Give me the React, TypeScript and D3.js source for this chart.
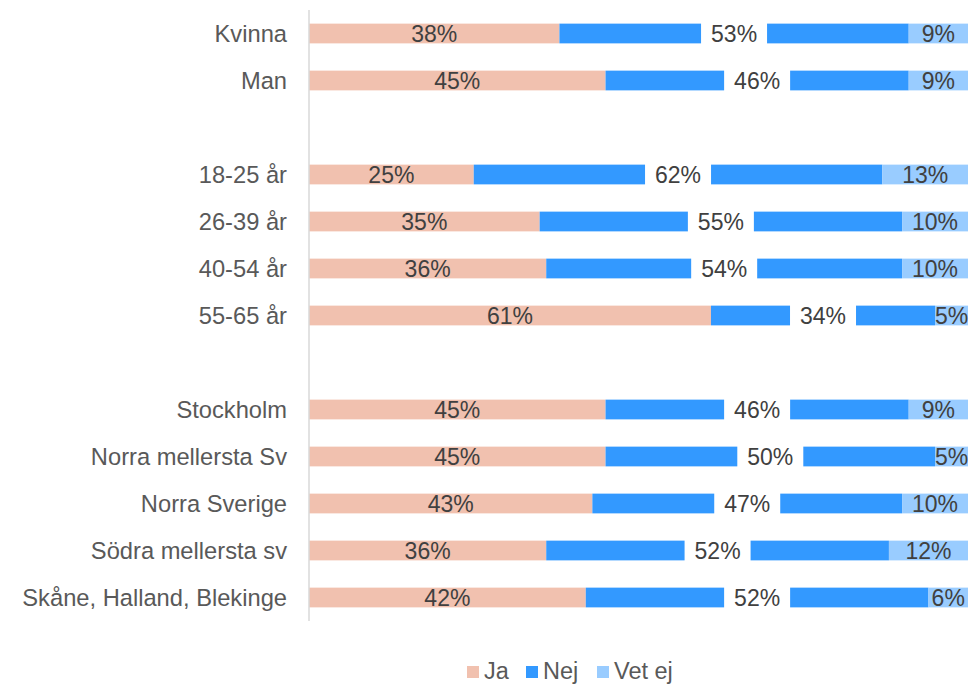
import React, { useEffect, useRef } from 'react'
import * as d3 from 'd3'

// groups of rows, blank spacer rows between groups
const GENDER = ['Kvinna', 'Man']
const AGE = ['18-25 år', '26-39 år', '40-54 år', '55-65 år']
const REGION = ['Stockholm', 'Norra mellersta Sv', 'Norra Sverige', 'Södra mellersta sv', 'Skåne, Halland, Blekinge']

const SERIES = ['Ja', 'Nej', 'Vet ej']
const JA = [38, 45, 25, 35, 36, 61, 45, 45, 43, 36, 42]
const NEJ = [53, 46, 62, 55, 54, 34, 46, 50, 47, 52, 52]
const VET_EJ = [9, 9, 13, 10, 10, 5, 9, 5, 10, 12, 6]

const COLORS = ['#F1C1AF', '#3399FF', '#99CCFF']
const WIDTH = 974
const HEIGHT = 684
const margin = { top: 10, right: 6, bottom: 63, left: 309 }
const FONT = 'Liberation Sans, Arial, sans-serif'

const categories = [...GENDER, ...AGE, ...REGION]
const rows = categories.map((c, i) => ({ cat: c, Ja: JA[i], Nej: NEJ[i], 'Vet ej': VET_EJ[i] }))
const domain = [...GENDER, '__gap1', ...AGE, '__gap2', ...REGION]

export default function App() {
  const axisRef = useRef<SVGGElement>(null)

  const x = d3.scaleLinear().domain([0, 100]).range([margin.left, 968])
  const y = d3.scaleBand<string>().domain(domain).range([margin.top, HEIGHT - margin.bottom]).paddingInner(0.58).paddingOuter(0.29)
  const stacked = d3.stack<any>().keys(SERIES)(rows)

  useEffect(() => {
    const g = d3.select(axisRef.current)
    g.selectAll('*').remove()
    g.call(
      d3.axisLeft(y)
        .tickSize(0)
        .tickSizeOuter(0)
        .tickPadding(22)
        .tickFormat((d) => (d.startsWith('__') ? '' : d)),
    )
    // extend the axis line over the full plot range
    g.select('.domain').attr('d', `M0,${margin.top}V${HEIGHT - margin.bottom}`).attr('stroke', '#D9D9D9').attr('stroke-width', 1.5)
    g.selectAll('text').attr('font-family', FONT).attr('font-size', 23.7).attr('fill', '#595959').attr('dy', '0.35em')
  }, [])

  const bh = y.bandwidth()

  return (
    <svg width={WIDTH} height={HEIGHT} style={{ position: 'absolute', left: 0, top: 0, background: '#fff' }}>
      {stacked.map((layer, si) => (
        <g key={layer.key} fill={COLORS[si]}>
          {layer.map((d, i) => (
            <rect key={i} x={x(d[0])} y={y(d.data.cat)} width={x(d[1]) - x(d[0])} height={bh} />
          ))}
        </g>
      ))}
      {stacked.map((layer, si) => (
        <g key={'lab' + layer.key}>
          {layer.map((d, i) => {
            const cx = (x(d[0]) + x(d[1])) / 2
            const cy = (y(d.data.cat) as number) + bh / 2
            const val = d[1] - d[0]
            return (
              <g key={i}>
                {si === 1 && <rect x={cx - 33} y={cy - bh / 2 - 1} width={66} height={bh + 2} fill="#fff" />}
                <text x={cx} y={cy} dy="0.35em" textAnchor="middle" fontFamily={FONT} fontSize={23} fill="#404040">
                  {val}%
                </text>
              </g>
            )
          })}
        </g>
      ))}
      <g ref={axisRef} transform={`translate(${margin.left},0)`} />
      <g transform="translate(467,671)">
        {SERIES.map((s, i) => {
          const offs = [0, 59, 130]
          return (
            <g key={s} transform={`translate(${offs[i]},0)`}>
              <rect x={0} y={-5} width={12} height={12} fill={COLORS[i]} />
              <text x={17} y={0} dy="0.35em" fontFamily={FONT} fontSize={23.5} fill="#595959">
                {s}
              </text>
            </g>
          )
        })}
      </g>
    </svg>
  )
}
